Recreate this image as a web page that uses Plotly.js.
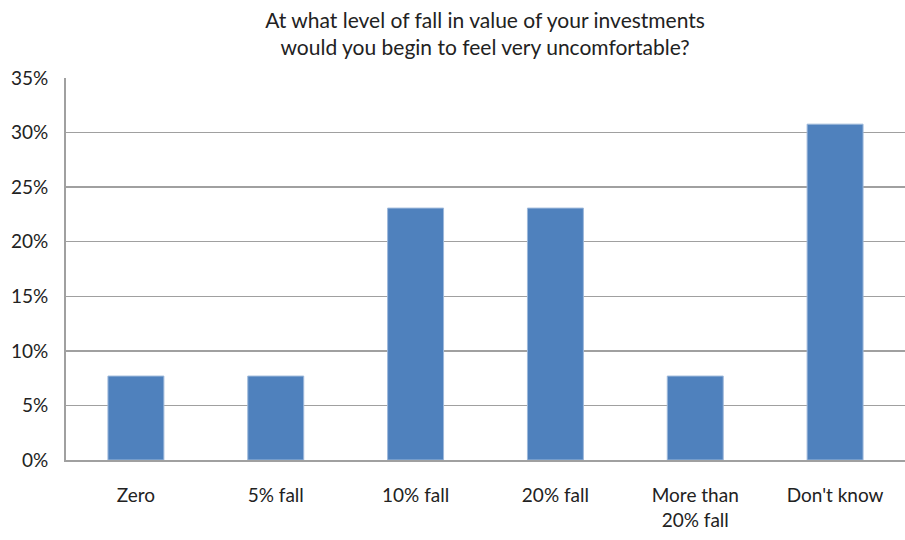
<!DOCTYPE html>
<html>
<head>
<meta charset="utf-8">
<script src="https://cdn.plot.ly/plotly-3.0.1.min.js"></script>
<style>html,body{margin:0;padding:0;background:#fff;overflow:hidden;}#chart{width:905px;height:540px;}</style>
</head>
<body>
<div id="chart"></div>
<script>
const categories = ["Zero", "5% fall", "10% fall", "20% fall", "More than<br>20% fall", "Don't know"];
const shares = [0.0769, 0.0769, 0.2308, 0.2308, 0.0769, 0.3077];
const yTickValues = [0, 0.05, 0.10, 0.15, 0.20, 0.25, 0.30, 0.35];
const yTickLabels = ["0%", "5%", "10%", "15%", "20%", "25%", "30%", "35%"];
const chartTitle = "At what level of fall in value of your investments<br>would you begin to feel very uncomfortable?";

const FONT = "Lato, 'Open Sans', sans-serif";

Plotly.newPlot("chart", [{
  type: "bar",
  x: categories,
  y: shares,
  marker: {color: "#4F81BD", line: {color: "#9DB8DA", width: 1}},
  hoverinfo: "none"
}], {
  width: 905, height: 540,
  margin: {l: 66, r: 0, t: 78, b: 80},
  paper_bgcolor: "#fff", plot_bgcolor: "#fff",
  bargap: 0.6,
  showlegend: false,
  font: {family: FONT, size: 19, color: "#222"},
  title: {
    text: chartTitle,
    font: {family: FONT, size: 21, color: "#222"},
    x: 0.536, xanchor: "center",
    y: 0.948, yanchor: "middle", yref: "container"
  },
  xaxis: {
    type: "category",
    showline: true, linecolor: "#a0a0a0", linewidth: 2,
    ticks: "", showgrid: false,
    ticklabelstandoff: 17,
    tickfont: {family: FONT, size: 19, color: "#222"}
  },
  yaxis: {
    range: [0, 0.35],
    tickvals: yTickValues, ticktext: yTickLabels,
    showline: true, linecolor: "#a0a0a0", linewidth: 2,
    showgrid: true, gridcolor: "#a0a0a0", gridwidth: 1.5,
    zeroline: false,
    ticks: "", ticklabelstandoff: 12,
    tickfont: {family: FONT, size: 19, color: "#222"}
  }
}, {displayModeBar: false, staticPlot: true});
</script>
</body>
</html>
